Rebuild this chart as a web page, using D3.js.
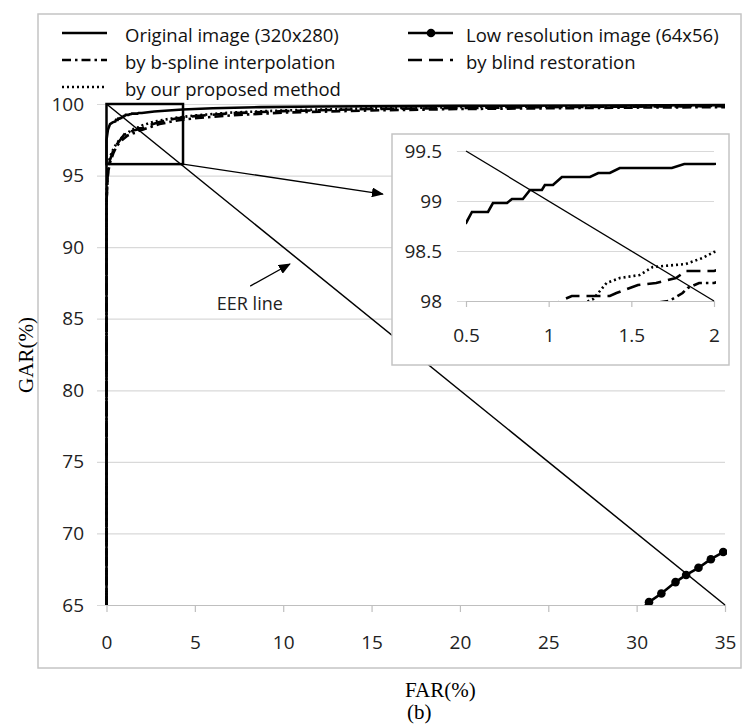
<!DOCTYPE html>
<html>
<head>
<meta charset="utf-8">
<script src="https://cdnjs.cloudflare.com/ajax/libs/d3/7.8.5/d3.min.js"></script>
<style>
  body { margin: 0; background: #fff; }
  svg { display: block; }
  .tick text { font-family: "Open Sans", sans-serif; font-size: 19px; fill: #222; }
</style>
</head>
<body>
<svg></svg>
<script>
// ---- data (FAR %, GAR %) ----
let xTicks = [0, 5, 10, 15, 20, 25, 30, 35];
let yTicks = [65, 70, 75, 80, 85, 90, 95, 100];
let insetXTicks = [0.5, 1, 1.5, 2];
let insetYTicks = [98, 98.5, 99, 99.5];

let original = [[0, 65], [0, 97.5], [0.08, 98.2], [0.2, 98.6], [0.35, 98.72], [0.5, 98.78],
  [0.536, 98.89], [0.633, 98.89], [0.663, 98.98], [0.748, 98.98], [0.778, 99.02], [0.844, 99.02],
  [0.887, 99.11], [0.959, 99.11], [0.977, 99.16], [1.026, 99.16], [1.08, 99.24], [1.25, 99.24],
  [1.3, 99.28], [1.37, 99.28], [1.43, 99.33], [1.745, 99.33], [1.82, 99.37], [2.0, 99.37],
  [2.7, 99.48], [4.3, 99.62], [6, 99.7], [8.7, 99.78], [12, 99.83], [20, 99.87], [28, 99.9], [35, 99.92]];

let bspline = [[0, 65], [0, 93], [0.05, 94.5], [0.1, 95.3], [0.2, 95.9], [0.4, 96.6], [0.6, 97.1],
  [0.9, 97.5], [1.2, 97.8], [1.5, 97.95], [1.73, 98.0], [1.81, 98.08], [1.84, 98.13], [1.91, 98.18],
  [2.0, 98.18], [2.5, 98.4], [3, 98.6], [4, 98.85], [5, 99.0], [7, 99.2], [10, 99.4], [15, 99.55],
  [20, 99.65], [25, 99.7], [30, 99.75], [35, 99.78]];

let proposed = [[0, 65], [0, 93.5], [0.05, 95], [0.1, 95.7], [0.2, 96.3], [0.4, 96.9], [0.6, 97.3],
  [0.9, 97.7], [1.1, 97.9], [1.27, 98.02], [1.35, 98.18], [1.43, 98.23], [1.55, 98.26], [1.63, 98.34],
  [1.83, 98.37], [1.93, 98.43], [2.0, 98.49], [2.5, 98.7], [3, 98.85], [4, 99.05], [5, 99.2],
  [7, 99.4], [10, 99.55], [15, 99.7], [20, 99.78], [25, 99.82], [30, 99.85], [35, 99.87]];

let blind = [[0, 65], [0, 93], [0.05, 94.7], [0.1, 95.5], [0.2, 96.1], [0.4, 96.8], [0.6, 97.2],
  [0.9, 97.7], [1.07, 98.0], [1.14, 98.05], [1.37, 98.05], [1.41, 98.08], [1.54, 98.16], [1.65, 98.18],
  [1.77, 98.23], [1.83, 98.3], [2.0, 98.3], [2.5, 98.55], [3, 98.75], [4, 99.0], [5, 99.15],
  [7, 99.35], [10, 99.5], [15, 99.65], [20, 99.72], [25, 99.78], [30, 99.82], [35, 99.85]];

let lowres = [[30.4, 64.85], [30.7, 65.2], [31.4, 65.8], [32.2, 66.6], [32.8, 67.1], [33.5, 67.6], [34.2, 68.2], [34.9, 68.7]];

let eerLine = [[0, 100], [35, 65]];
let zoomBox = [[0, 100], [4.33, 95.8]];
let zoomArrowEnd = [15.64, 93.71];
let eerArrow = [[8.13, 87.28], [10.38, 88.82]];
let eerLabelAt = [9.98, 86.1];

let legendRows = [
  { name: "Original image (320x280)", key: "original", col: 0, row: 0 },
  { name: "Low resolution image (64x56)", key: "lowres", col: 1, row: 0 },
  { name: "by b-spline interpolation", key: "bspline", col: 0, row: 1 },
  { name: "by blind restoration", key: "blind", col: 1, row: 1 },
  { name: "by our proposed method", key: "proposed", col: 0, row: 2 }
];

let dashes = { original: null, lowres: null, bspline: "9,4,2.5,4", blind: "14,7", proposed: "2,3" };

// ---- layout ----
let width = 746;
let height = 724;
let plot = { left: 106.5, right: 725, top: 104, bottom: 605 };
let inset = { x: 392, y: 134, w: 337, h: 231, left: 466, right: 714, top: 151, bottom: 301 };

let svg = d3.select("svg").attr("width", width).attr("height", height);

let defs = svg.append("defs");
defs.append("marker")
  .attr("id", "arrow")
  .attr("markerUnits", "userSpaceOnUse")
  .attr("markerWidth", 12).attr("markerHeight", 10)
  .attr("refX", 11).attr("refY", 5)
  .attr("orient", "auto")
  .append("path").attr("d", "M0,0 L12,5 L0,10 Z").attr("fill", "#000");

defs.append("clipPath").attr("id", "clipMain")
  .append("rect").attr("x", plot.left - 3).attr("y", plot.top - 4)
  .attr("width", plot.right - plot.left + 5).attr("height", plot.bottom - plot.top + 4);

defs.append("clipPath").attr("id", "clipInset")
  .append("rect").attr("x", inset.left).attr("y", inset.top - 2)
  .attr("width", inset.right - inset.left + 2).attr("height", inset.bottom - inset.top + 2);

// outer frame
svg.append("rect")
  .attr("x", 38).attr("y", 14).attr("width", 703).attr("height", 654)
  .attr("fill", "none").attr("stroke", "#c4c4c4").attr("stroke-width", 1.5);

let xScale = d3.scaleLinear().domain([0, 35]).range([plot.left, plot.right]);
let yScale = d3.scaleLinear().domain([65, 100]).range([plot.bottom, plot.top]);

// y gridlines + labels
let yAxis = d3.axisLeft(yScale).tickValues(yTicks).tickSize(-(plot.right - 97)).tickPadding(13);
let gy = svg.append("g").attr("transform", `translate(97, 0)`).call(yAxis);
gy.select(".domain").remove();
gy.selectAll(".tick line").attr("stroke", "#d9d9d9").attr("stroke-width", 1.2);

// x axis
let xAxis = d3.axisBottom(xScale).tickValues(xTicks).tickSize(7).tickSizeOuter(0).tickPadding(24);
let gx = svg.append("g").attr("transform", `translate(0, ${plot.bottom})`).call(xAxis);
gx.select(".domain").attr("stroke", "#bfbfbf").attr("stroke-width", 1.2);
gx.selectAll(".tick line").attr("stroke", "#bfbfbf").attr("stroke-width", 1.2);

let line = d3.line().x(d => xScale(d[0])).y(d => yScale(d[1]));

let series = { original, bspline, proposed, blind, lowres };
let drawOrder = ["bspline", "proposed", "blind", "original", "lowres"];

let mainG = svg.append("g").attr("clip-path", "url(#clipMain)");
drawOrder.forEach(key => {
  mainG.append("path")
    .datum(series[key])
    .attr("d", line)
    .attr("fill", "none")
    .attr("stroke", "#000")
    .attr("stroke-width", 2.6)
    .attr("stroke-dasharray", dashes[key]);
});
mainG.selectAll("circle.low")
  .data(lowres.slice(1))
  .enter()
  .append("circle")
  .attr("class", "low")
  .attr("cx", d => xScale(d[0]))
  .attr("cy", d => yScale(d[1]))
  .attr("r", 4.3)
  .attr("fill", "#000");

// EER line
svg.append("path").datum(eerLine).attr("d", line)
  .attr("fill", "none").attr("stroke", "#000").attr("stroke-width", 1.5);

// zoom box and its arrow
svg.append("rect")
  .attr("x", xScale(zoomBox[0][0])).attr("y", yScale(zoomBox[0][1]))
  .attr("width", xScale(zoomBox[1][0]) - xScale(zoomBox[0][0]))
  .attr("height", yScale(zoomBox[1][1]) - yScale(zoomBox[0][1]))
  .attr("fill", "none").attr("stroke", "#000").attr("stroke-width", 2.5);

svg.append("line")
  .attr("x1", xScale(zoomBox[1][0])).attr("y1", yScale(zoomBox[1][1]))
  .attr("x2", xScale(zoomArrowEnd[0])).attr("y2", yScale(zoomArrowEnd[1]))
  .attr("stroke", "#000").attr("stroke-width", 1.3)
  .attr("marker-end", "url(#arrow)");

// EER annotation
svg.append("line")
  .attr("x1", xScale(eerArrow[0][0])).attr("y1", yScale(eerArrow[0][1]))
  .attr("x2", xScale(eerArrow[1][0])).attr("y2", yScale(eerArrow[1][1]))
  .attr("stroke", "#000").attr("stroke-width", 1.3)
  .attr("marker-end", "url(#arrow)");

svg.append("text")
  .attr("x", xScale(eerLabelAt[0])).attr("y", yScale(eerLabelAt[1]))
  .attr("text-anchor", "end").attr("dominant-baseline", "central")
  .style("font-family", "'Open Sans', sans-serif").style("font-size", "18px").attr("fill", "#222")
  .text("EER line");

// ---- inset ----
svg.append("rect")
  .attr("x", inset.x).attr("y", inset.y).attr("width", inset.w).attr("height", inset.h)
  .attr("fill", "#fff").attr("stroke", "#c4c4c4").attr("stroke-width", 1.5);

let ixScale = d3.scaleLinear().domain([0.5, 2]).range([inset.left, inset.right]);
let iyScale = d3.scaleLinear().domain([98, 99.5]).range([inset.bottom, inset.top]);

let iyAxis = d3.axisLeft(iyScale).tickValues(insetYTicks).tickSize(-(inset.right - 457)).tickPadding(15)
  .tickFormat(d3.format("~g"));
let igy = svg.append("g").attr("transform", `translate(457, 0)`).call(iyAxis);
igy.select(".domain").remove();
igy.selectAll(".tick line").attr("stroke", "#d9d9d9").attr("stroke-width", 1.2);

let ixAxis = d3.axisBottom(ixScale).tickValues(insetXTicks).tickSize(6).tickSizeOuter(0).tickPadding(22)
  .tickFormat(d3.format("~g"));
let igx = svg.append("g").attr("transform", `translate(0, ${inset.bottom})`).call(ixAxis);
igx.select(".domain").attr("stroke", "#bfbfbf").attr("stroke-width", 1.2);
igx.selectAll(".tick line").attr("stroke", "#bfbfbf").attr("stroke-width", 1.2);

let iline = d3.line().x(d => ixScale(d[0])).y(d => iyScale(d[1]));
let insetG = svg.append("g").attr("clip-path", "url(#clipInset)");
drawOrder.forEach(key => {
  insetG.append("path")
    .datum(series[key])
    .attr("d", iline)
    .attr("fill", "none")
    .attr("stroke", "#000")
    .attr("stroke-width", 2.6)
    .attr("stroke-dasharray", dashes[key]);
});
svg.append("path").datum([[0.5, 99.5], [2, 98]]).attr("d", iline)
  .attr("fill", "none").attr("stroke", "#000").attr("stroke-width", 1.3);

// ---- legend ----
let legend = svg.append("g");
legendRows.forEach(item => {
  let x0 = item.col === 0 ? 62 : 408;
  let y0 = 33 + item.row * 27;
  legend.append("line")
    .attr("x1", x0).attr("x2", x0 + 45).attr("y1", y0).attr("y2", y0)
    .attr("stroke", "#000").attr("stroke-width", 2.6)
    .attr("stroke-dasharray", dashes[item.key]);
  if (item.key === "lowres") {
    legend.append("circle").attr("cx", x0 + 23).attr("cy", y0).attr("r", 4.3).attr("fill", "#000");
  }
  legend.append("text")
    .attr("x", item.col === 0 ? 125 : 466).attr("y", y0 + 1)
    .attr("dominant-baseline", "central")
    .style("font-family", "'Open Sans', sans-serif").style("font-size", "18.5px").attr("fill", "#111")
    .text(item.name);
});

// axis titles
svg.append("text")
  .attr("transform", `translate(26, 355) rotate(-90)`)
  .attr("text-anchor", "middle").attr("dominant-baseline", "central")
  .style("font-family", "'Liberation Serif', 'Times New Roman', serif").style("font-size", "21px")
  .text("GAR(%)");

svg.append("text")
  .attr("x", 405).attr("y", 690).attr("dominant-baseline", "central")
  .style("font-family", "'Liberation Serif', 'Times New Roman', serif").style("font-size", "21px")
  .text("FAR(%)");

svg.append("text")
  .attr("x", 407).attr("y", 712).attr("dominant-baseline", "central")
  .style("font-family", "'Liberation Serif', 'Times New Roman', serif").style("font-size", "21px")
  .text("(b)");
</script>
</body>
</html>
